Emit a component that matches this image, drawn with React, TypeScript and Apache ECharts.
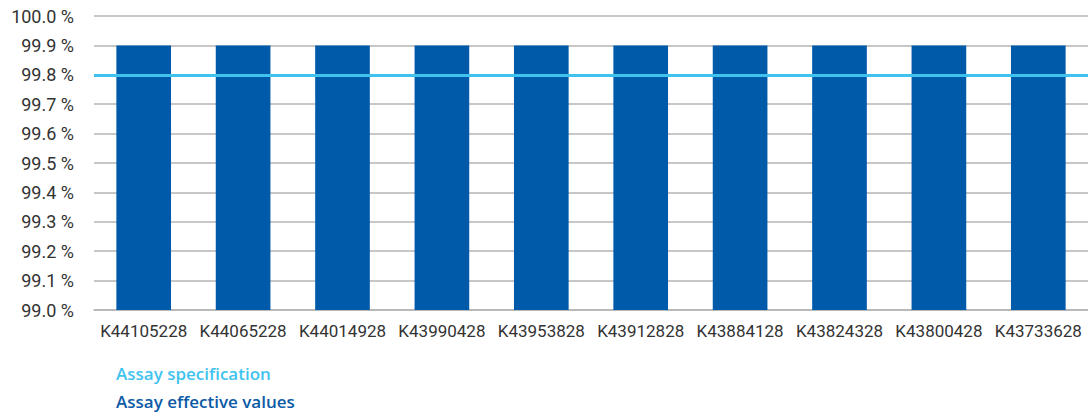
import React, { useEffect, useRef } from "react";
import * as echarts from "echarts";

const categories = [
  "K44105228", "K44065228", "K44014928", "K43990428", "K43953828",
  "K43912828", "K43884128", "K43824328", "K43800428", "K43733628",
];
const effectiveValues = [99.9, 99.9, 99.9, 99.9, 99.9, 99.9, 99.9, 99.9, 99.9, 99.9];
const specificationValue = 99.8;
const legendNames = ["Assay specification", "Assay effective values"];
const yMin = 99.0;
const yMax = 100.0;
const yInterval = 0.1;

const SPEC_COLOR = "#3fc3ee";
const BAR_COLOR = "#005aaa";

export default function App() {
  const ref = useRef<HTMLDivElement>(null);
  useEffect(() => {
    if (!ref.current) return;
    const chart = echarts.init(ref.current, undefined, { renderer: "svg" });
    chart.setOption({
      animation: false,
      grid: { left: 94, right: 0, top: 16, bottom: 102, outerBoundsMode: "none" },
      legend: { show: false },
      graphic: [
        {
          type: "text",
          left: 116,
          top: 365,
          style: {
            text: legendNames[0],
            fill: SPEC_COLOR,
            font: "600 17px 'Open Sans'",
          },
        },
        {
          type: "text",
          left: 116,
          top: 393,
          style: {
            text: legendNames[1],
            fill: "#0b5aa6",
            font: "600 17px 'Open Sans'",
          },
        },
      ],
      xAxis: {
        type: "category",
        data: categories,
        axisTick: { show: false },
        axisLine: { lineStyle: { color: "#b5b5b5", width: 1.5 } },
        axisLabel: { color: "#333", fontSize: 17, fontFamily: "Roboto", margin: 12, interval: 0 },
      },
      yAxis: {
        type: "value",
        min: yMin,
        max: yMax,
        interval: yInterval,
        axisLabel: {
          color: "#333",
          fontSize: 18,
          fontFamily: "Roboto",
          margin: 20,
          formatter: (v: number) => v.toFixed(1) + " %",
        },
        axisLine: { show: false },
        axisTick: { show: false },
        splitLine: { lineStyle: { color: "#b5b5b5", width: 1.5 } },
      },
      series: [
        {
          name: legendNames[0],
          type: "line",
          data: [],
          symbol: "none",
          lineStyle: { color: SPEC_COLOR },
          itemStyle: { color: SPEC_COLOR },
          z: 5,
          markLine: {
            silent: true,
            symbol: "none",
            label: { show: false },
            lineStyle: { color: SPEC_COLOR, width: 3, type: "solid" },
            data: [{ yAxis: specificationValue }],
          },
        },
        {
          name: legendNames[1],
          type: "bar",
          data: effectiveValues,
          barWidth: "55%",
          itemStyle: { color: BAR_COLOR },
          z: 2,
        },
      ],
    });
    return () => chart.dispose();
  }, []);
  return (
    <div
      ref={ref}
      style={{ position: "absolute", left: 0, top: 0, width: 1088, height: 412 }}
    />
  );
}
